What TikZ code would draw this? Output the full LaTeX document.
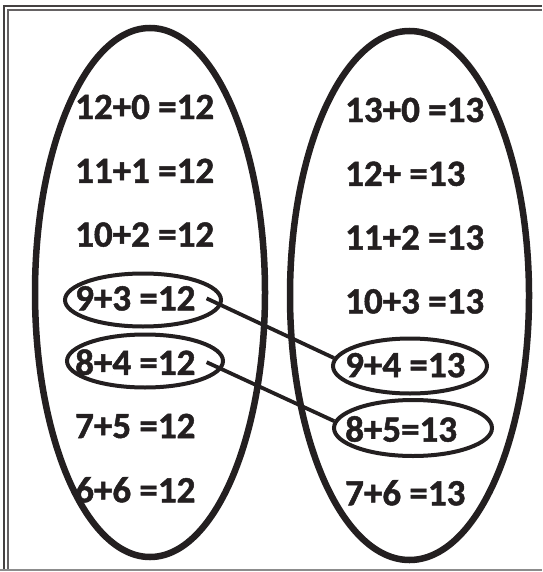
\documentclass[tikz,border=0pt]{standalone}
\usepackage{fontspec}
\setmainfont{Carlito}[BoldFeatures={FakeBold=1.3}]
\usetikzlibrary{positioning, shapes.geometric}
\definecolor{ink}{HTML}{231F20}

\begin{document}
\begin{tikzpicture}[
    x=1pt, y=-1pt, node distance=63.8pt,
    every node/.style={text=ink, inner xsep=11pt, font=\fontsize{37}{37}\selectfont\bfseries},
    bigring/.style={ellipse, draw=ink, line width=6.5pt},
    smallring/.style={ellipse, draw=ink, line width=4pt, minimum width=156pt, minimum height=53pt}
]
\useasboundingbox (0,0) rectangle (542,572);
% page frame
\draw[line width=1.6pt, color=ink!85] (4,570) -- (4,6) -- (542,6);
\draw[line width=1.3pt, color=ink!70] (8,570) -- (8,10) -- (542,10);
\draw[line width=1.4pt, color=black!45] (0,570) -- (542,570);

% the two sets
\node (set_12) [bigring, minimum width=230pt, minimum height=529pt] at (150,292.5) {};
\node (set_13) [bigring, minimum width=239pt, minimum height=529pt] at (409.5,295.5) {};

% sums making 12
\node (sum_12_0) [anchor=west] at (64,107) {12+0 =12};
\node (sum_11_1) [below=of sum_12_0.west, anchor=west] {11+1 =12};
\node (sum_10_2) [below=of sum_11_1.west, anchor=west] {10+2 =12};
\node (sum_9_3) [below=of sum_10_2.west, anchor=west] {9+3 =12};
\node (sum_8_4) [below=of sum_9_3.west, anchor=west] {8+4 =12};
\node (sum_7_5) [below=of sum_8_4.west, anchor=west] {7+5 =12};
\node (sum_6_6) [below=of sum_7_5.west, anchor=west] {6+6 =12};

% sums making 13
\node (sum_13_0) [anchor=west] at (334,110) {13+0 =13};
\node (sum_12_x) [below=of sum_13_0.west, anchor=west] {12+ =13};
\node (sum_11_2) [below=of sum_12_x.west, anchor=west] {11+2 =13};
\node (sum_10_3) [below=of sum_11_2.west, anchor=west] {10+3 =13};
\node (sum_9_4) [below=of sum_10_3.west, anchor=west] {9+4 =13};
\node (sum_8_5) [below=of sum_9_4.west, anchor=west] {8+5=13};
\node (sum_7_6) [below=of sum_8_5.west, anchor=west] {7+6 =13};

% rings round the matched sums
\node (ring_9_3) [smallring] at (143,300) {};
\node (ring_8_4) [smallring] at (145,361) {};
\node (ring_9_4) [smallring, minimum width=154pt, minimum height=55pt] at (410,366) {};
\node (ring_8_5) [smallring, minimum width=158pt, minimum height=56pt] at (413,428) {};

\draw[line width=3.8pt, color=ink] (sum_9_3.east) -- (ring_9_4.174);
\draw[line width=3.8pt, color=ink] (sum_8_4.east) -- (ring_8_5.175);
\end{tikzpicture}
\end{document}
